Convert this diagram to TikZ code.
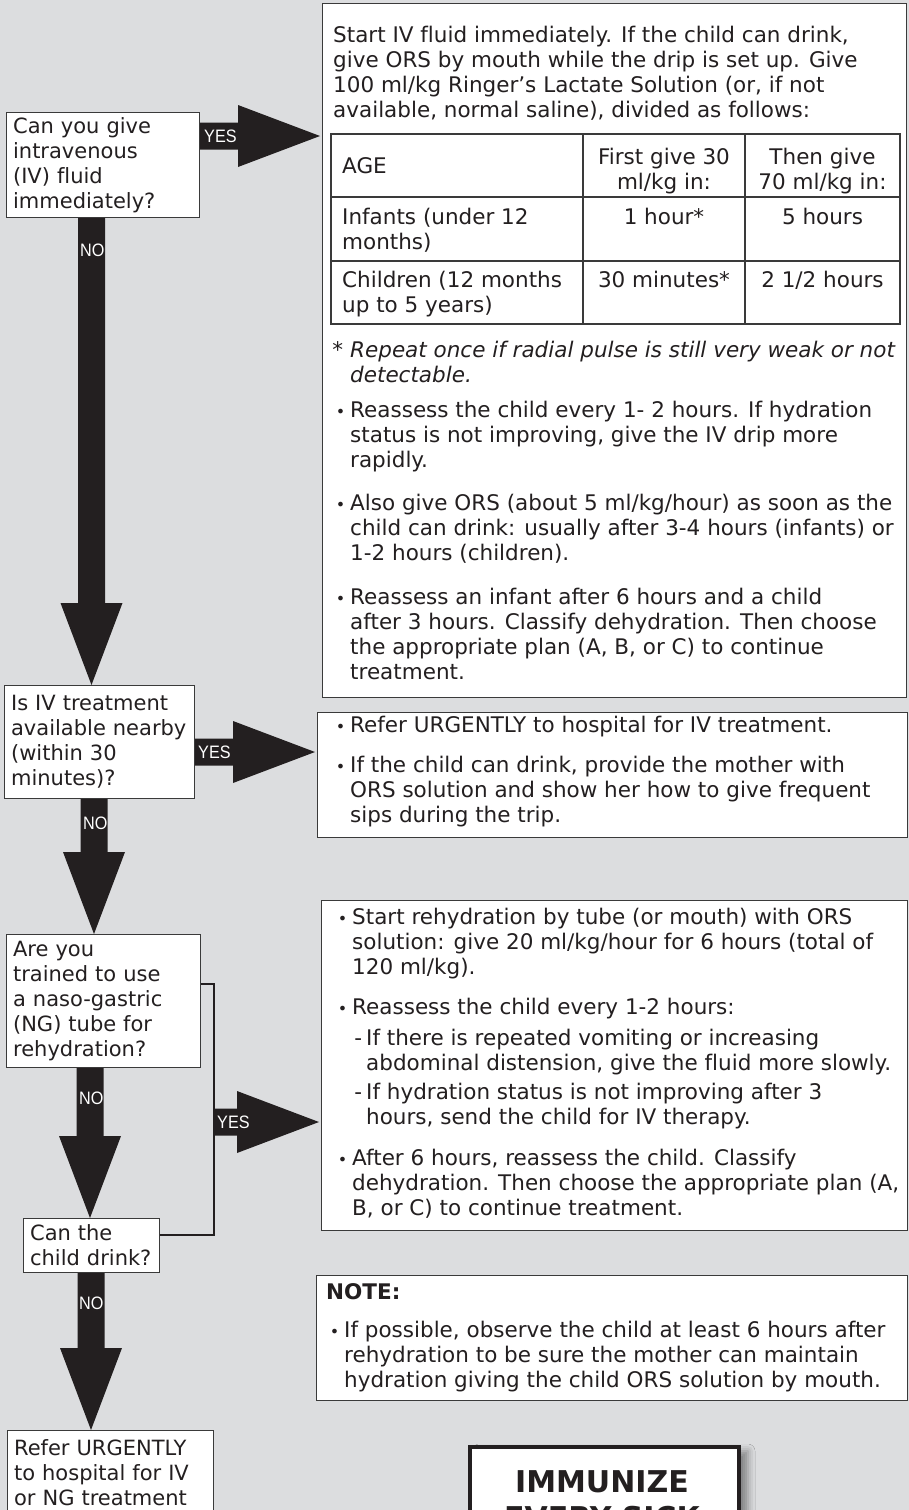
\documentclass[tikz,border=0pt]{standalone}
\usepackage{fontspec}
\setmainfont{DejaVu Sans}[Ligatures=NoCommon]
\newfontfamily\tagfont[FakeStretch=0.9]{Liberation Sans}
\usetikzlibrary{calc,positioning,shadows.blur}
\definecolor{SheetGrey}{HTML}{DCDDDF}
\definecolor{InkBlack}{HTML}{231F20}
\definecolor{EdgeGrey}{HTML}{3A3A3A}
\newcommand{\bodyfont}{\fontsize{21}{25}\selectfont}
\newcommand{\panelfont}{\fontsize{21.5}{25}\selectfont}
\newcommand{\bul}{\llap{\fontsize{16}{25}\selectfont\textbullet\hspace{5pt}}}
\tikzset{
    question/.style = {draw=EdgeGrey, fill=white, line width=1.2pt, anchor=north west,
        inner xsep=6.5pt, inner ysep=0pt, align=left, font=\bodyfont, text=InkBlack},
    panel/.style = {draw=EdgeGrey, fill=white, line width=1.2pt, anchor=north west, inner sep=0pt},
    body/.style = {anchor=north west, inner sep=0pt, align=left, font=\panelfont, text=InkBlack},
    cell/.style = {anchor=north, inner sep=0pt, align=center, font=\panelfont, text=InkBlack},
    tag/.style = {anchor=west, inner sep=0pt, text=white, font=\tagfont\fontsize{18}{18}\selectfont},
    fat/.style = {fill=InkBlack},
    bracket/.style = {draw=InkBlack, line width=2.5pt},
    grid/.style = {draw=EdgeGrey, line width=1.2pt}
}
\newcommand{\fatdown}[3]{%
    \fill[fat] let \p1=(#1.south), \p2=(#2.north) in
        (#3-13.5,\y1) -- (#3+13.5,\y1) -- (#3+13.5,\y2+82) -- (#3+31,\y2+82)
        -- (#3,\y2) -- (#3-31,\y2+82) -- (#3-13.5,\y2+82) -- cycle;}
\newcommand{\fatright}[3]{%
    \fill[fat] let \p1=#1, \p2=(#2.west) in
        (\x1,#3+13.5) -- (\x2-84,#3+13.5) -- (\x2-84,#3+31) -- (\x2-2,#3)
        -- (\x2-84,#3-31) -- (\x2-84,#3-13.5) -- (\x1,#3-13.5) -- cycle;}

\begin{document}
\begin{tikzpicture}[x=1pt, y=1pt]
    \useasboundingbox (0,0) rectangle (909,-1510);
    \clip (0,0) rectangle (909,-1510);
    \fill[SheetGrey] (0,0) rectangle (909,-1510);

    % questions
    \node[question, minimum width=193, minimum height=105, text width=180] (qiv) at (6,-112)
        {Can you give\\intravenous\\(IV) fluid\\immediately?};
    \node[question, minimum width=190, minimum height=113, text width=177] (qnear) at (4,-685)
        {Is IV treatment\\available nearby\\(within 30\\minutes)?};
    \node[question, minimum width=194, minimum height=133, text width=181] (qng) at (6,-934)
        {Are you\\trained to use\\a naso-gastric\\(NG) tube for\\rehydration?};
    \node[question, minimum width=136, minimum height=54, text width=123] (qdrink) at (23,-1218)
        {Can the\\child drink?};
    \node[question, minimum width=206, minimum height=85, text width=193] (refer) at (7,-1430)
        {Refer URGENTLY\\to hospital for IV\\or NG treatment};

    % plans
    \node[panel, minimum width=584, minimum height=694] (ivbox) at (322,-3) {};
    \node[panel, minimum width=590, minimum height=125] (referbox) at (317,-712) {};
    \node[panel, minimum width=586, minimum height=330] (ngbox) at (321,-900) {};
    \node[panel, minimum width=591, minimum height=125] (notebox) at (316,-1275) {};
    \node[panel, draw=InkBlack, line width=4pt, minimum width=269, minimum height=120,
        blur shadow={shadow xshift=9pt, shadow yshift=-4pt, shadow blur radius=7pt}] (immbox) at (468,-1445) {};
    \node[anchor=north, inner sep=0pt, align=center, text=InkBlack,
        font=\fontsize{30}{36}\selectfont\bfseries] (immtext) at (602,-1470) {IMMUNIZE\\EVERY SICK};

    \node[body] (ivintro) at (333,-26) {Start IV fluid immediately. If the child can drink,\\give ORS by mouth while the drip is set up. Give\\100 ml/kg Ringer’s Lactate Solution (or, if not\\available, normal saline), divided as follows:};
    \draw[grid] (331,-134) rectangle (900,-324);
    \foreach \r in {197,261} \draw[grid] (331,-\r) -- (900,-\r);
    \foreach \c in {583,745} \draw[grid] (\c,-134) -- (\c,-324);
    \node[body] (tage) at (342,-157) {AGE};
    \node[cell] (tfirst) at (664,-148) {First give 30\\ml/kg in:};
    \node[cell] (tthen) at (822.5,-148) {Then give\\70 ml/kg in:};
    \node[body] (tinf) at (342,-208) {Infants (under 12\\months)};
    \node[cell] (tinfa) at (664,-208) {1 hour*};
    \node[cell] (tinfb) at (822.5,-208) {5 hours};
    \node[body] (tchild) at (342,-271) {Children (12 months\\up to 5 years)};
    \node[cell] (tchilda) at (664,-271) {30 minutes*};
    \node[cell] (tchildb) at (822.5,-271) {2 1/2 hours};
    \node[body, font=\panelfont\itshape] (tnote) at (350,-341) {\llap{\upshape*\hspace{7pt}}Repeat once if radial pulse is still very weak or not\\detectable.};
    \node[body] (ivstepa) at (350,-401) {\bul Reassess the child every 1- 2 hours. If hydration\\status is not improving, give the IV drip more\\rapidly.};
    \node[body] (ivstepb) at (350,-494) {\bul Also give ORS (about 5 ml/kg/hour) as soon as the\\child can drink: usually after 3-4 hours (infants) or\\1-2 hours (children).};
    \node[body] (ivstepc) at (350,-588) {\bul Reassess an infant after 6 hours and a child\\after 3 hours. Classify dehydration. Then choose\\the appropriate plan (A, B, or C) to continue\\treatment.};

    \node[body] (refa) at (350,-716) {\bul Refer URGENTLY to hospital for IV treatment.};
    \node[body] (refb) at (350,-756) {\bul If the child can drink, provide the mother with\\ORS solution and show her how to give frequent\\sips during the trip.};

    \node[body] (nga) at (352,-908) {\bul Start rehydration by tube (or mouth) with ORS\\solution: give 20 ml/kg/hour for 6 hours (total of\\120 ml/kg).};
    \node[body] (ngb) at (352,-998) {\bul Reassess the child every 1-2 hours:};
    \node[body] (ngba) at (366,-1029) {\llap{-\hspace{4pt}}If there is repeated vomiting or increasing\\abdominal distension, give the fluid more slowly.};
    \node[body] (ngbb) at (366,-1083) {\llap{-\hspace{4pt}}If hydration status is not improving after 3\\hours, send the child for IV therapy.};
    \node[body] (ngc) at (352,-1149) {\bul After 6 hours, reassess the child. Classify\\dehydration. Then choose the appropriate plan (A,\\B, or C) to continue treatment.};

    \node[body, font=\panelfont\bfseries] (notehead) at (326,-1283) {NOTE:};
    \node[body] (notetext) at (344,-1321) {\bul If possible, observe the child at least 6 hours after\\rehydration to be sure the mother can maintain\\hydration giving the child ORS solution by mouth.};

    % arrows
    \coordinate (brktop) at (214,-984);
    \coordinate (brkbot) at (214,-1235);
    \draw[bracket] (qng.east |- brktop) -- (brktop) -- (brkbot) -- (qdrink.east |- brkbot);
    \fatdown{qiv}{qnear}{91.5}
    \fatdown{qnear}{qng}{94}
    \fatdown{qng}{qdrink}{90}
    \fatdown{qdrink}{refer}{91}
    \fatright{(qiv.east)}{ivbox}{-136}
    \fatright{(qnear.east)}{referbox}{-752}
    \fatright{(brktop)}{ngbox}{-1122}
    \foreach \nm/\px/\py/\word in {yesa/204/-136/YES, yesb/198/-752/YES, yesc/217/-1122/YES,
        noa/80/-250/NO, nob/83/-823/NO, noc/79/-1098/NO, nod/79/-1303/NO}
        \node[tag] (\nm) at (\px,\py) {\word};
\end{tikzpicture}
\end{document}
